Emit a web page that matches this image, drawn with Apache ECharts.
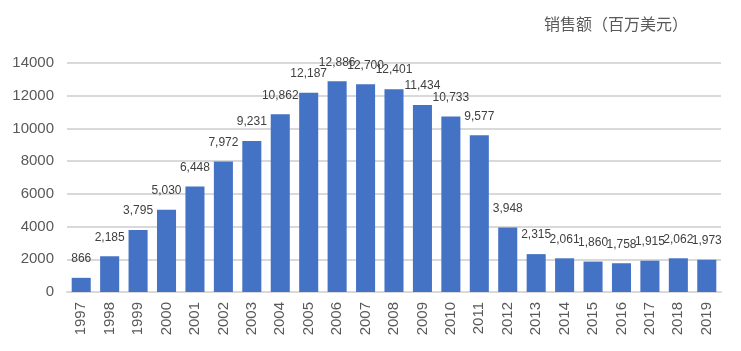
<!DOCTYPE html>
<html>
<head>
<meta charset="utf-8">
<script src="https://cdn.jsdelivr.net/npm/echarts@6/dist/echarts.min.js"></script>
<style>
  html, body { margin: 0; padding: 0; background: #fff; }
  #main { width: 741px; height: 351px; }
</style>
</head>
<body>
<div id="main"></div>
<script>
  // 年份
  var years = ['1997', '1998', '1999', '2000', '2001', '2002', '2003', '2004', '2005', '2006', '2007', '2008',
    '2009', '2010', '2011', '2012', '2013', '2014', '2015', '2016', '2017', '2018', '2019'];
  // 销售额（百万美元）
  var sales = [866, 2185, 3795, 5030, 6448, 7972, 9231, 10862, 12187, 12886, 12700, 12401,
    11434, 10733, 9577, 3948, 2315, 2061, 1860, 1758, 1915, 2062, 1973];
  var titleText = '销售额（百万美元）';

  var font = '"Liberation Sans", "Noto Sans CJK SC", sans-serif';
  var myChart = echarts.init(document.getElementById('main'));
  var option = {
    backgroundColor: '#fff',
    animation: false,
    title: {
      text: titleText,
      right: 48,
      top: 11,
      textStyle: {
        color: '#595959',
        fontSize: 16,
        fontWeight: 'normal',
        fontFamily: '"Noto Sans CJK SC", sans-serif'
      }
    },
    grid: {
      left: 67,
      right: 20,
      top: 63,
      bottom: 59
    },
    xAxis: {
      type: 'category',
      data: years,
      axisLine: { lineStyle: { color: '#d9d9d9', width: 2 } },
      axisTick: { show: false },
      axisLabel: {
        rotate: 90,
        color: '#595959',
        fontSize: 15,
        fontFamily: font,
        margin: 10
      }
    },
    yAxis: {
      type: 'value',
      min: 0,
      max: 14000,
      interval: 2000,
      axisLine: { show: false },
      axisTick: { show: false },
      splitLine: { lineStyle: { color: '#d9d9d9', width: 2 } },
      axisLabel: {
        color: '#595959',
        fontSize: 15,
        fontFamily: font,
        margin: 13,
        formatter: function (v) { return String(v); }
      }
    },
    series: [{
      type: 'bar',
      data: sales,
      barCategoryGap: '33%',
      itemStyle: { color: '#4472C4' },
      label: {
        show: true,
        position: 'top',
        distance: 13,
        color: '#404040',
        fontSize: 12,
        fontFamily: font,
        formatter: function (p) {
          return p.value.toLocaleString('en-US');
        }
      }
    }]
  };
  myChart.setOption(option);
</script>
</body>
</html>
